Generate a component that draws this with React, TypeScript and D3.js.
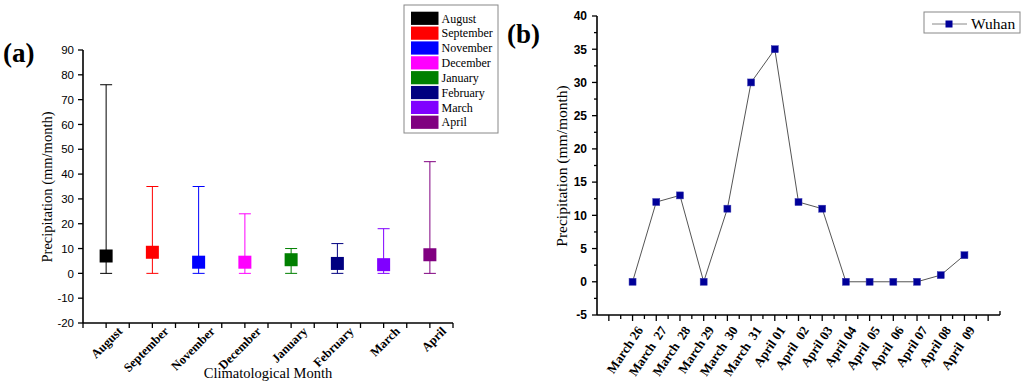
import React from "react";
import * as d3 from "d3";

// ---------- Panel (a) data ----------
const months = ["August", "September", "November", "December", "January", "February", "March", "April"];
const monthMeans = [7, 8.5, 4.5, 4.5, 5.5, 4, 3.5, 7.5];
const monthMax = [76, 35, 35, 24, 10, 12, 18, 45];
const monthMin = [0, 0, 0, 0, 0, 0, 0, 0];
const monthColors = ["#000000", "#ff0000", "#0000ff", "#ff00ff", "#008000", "#000080", "#8000ff", "#800080"];
const yTicksA = [-20, -10, 0, 10, 20, 30, 40, 50, 60, 70, 80, 90];

// ---------- Panel (b) data ----------
const days = [
  "March 26", "March  27", "March  28", "March 29", "March  30", "March  31", "April 01",
  "April  02", "April 03", "April 04", "April  05", "April  06", "April 07", "April 08", "April  09",
];
const wuhan = [0, 12, 13, 0, 11, 30, 35, 12, 11, 0, 0, 0, 0, 1, 4];
const yTicksB = [-5, 0, 5, 10, 15, 20, 25, 30, 35, 40];

const serif = "'Liberation Serif', 'Times New Roman', serif";
const sans = "'Liberation Sans', Arial, sans-serif";

export default function App() {
  // scales panel a
  const xa = d3.scaleLinear().domain([0.5, 8.5]).range([83, 453]);
  const ya = d3.scaleLinear().domain([-20, 90]).range([323, 50]);
  // scales panel b
  const xb = d3.scaleLinear().domain([-1.5, 15.5]).range([597, 1000]);
  const yb = d3.scaleLinear().domain([-5, 40]).range([315, 16]);

  const xTicksA = d3.range(0.5, 8.51, 0.5);
  const xTicksB = d3.range(-1, 15.01, 0.5);
  const yMinorB = d3.range(-5, 40.01, 2.5);

  const line = d3
    .line<number>()
    .x((_, i) => xb(i))
    .y((d) => yb(d));

  const sq = 13;
  const capW = 12;
  const mk = 7;

  return (
    <svg
      width={1024}
      height={388}
      style={{ position: "absolute", left: 0, top: 0, background: "#fff" }}
    >
      <rect x={0} y={0} width={1024} height={388} fill="#fff" />
      {/* ================= Panel (a) ================= */}
      <text x={3} y={62} fontFamily={serif} fontWeight="bold" fontSize={27}>(a)</text>

      {/* error bars and squares */}
      {months.map((m, i) => {
        const cx = xa(i + 1);
        const c = monthColors[i];
        return (
          <g key={m}>
            <line x1={cx} x2={cx} y1={ya(monthMin[i])} y2={ya(monthMax[i])} stroke={c} strokeWidth={1} />
            <line x1={cx - capW / 2} x2={cx + capW / 2} y1={ya(monthMax[i])} y2={ya(monthMax[i])} stroke={c} strokeWidth={1} />
            <line x1={cx - capW / 2} x2={cx + capW / 2} y1={ya(monthMin[i])} y2={ya(monthMin[i])} stroke={c} strokeWidth={1} />
            <rect x={cx - sq / 2} y={ya(monthMeans[i]) - sq / 2} width={sq} height={sq} fill={c} />
          </g>
        );
      })}

      {/* axes a */}
      <line x1={83} x2={83} y1={ya(90)} y2={ya(-20)} stroke="#000" strokeWidth={1.6} />
      <line x1={83} x2={453} y1={ya(-20)} y2={ya(-20)} stroke="#000" strokeWidth={1.6} />
      {yTicksA.map((t) => (
        <g key={t}>
          <line x1={78} x2={83} y1={ya(t)} y2={ya(t)} stroke="#000" strokeWidth={1.3} />
          <text x={74} y={ya(t)} dy="0.36em" textAnchor="end" fontFamily={sans} fontSize={11.5}>
            {t}
          </text>
        </g>
      ))}
      {xTicksA.map((t) => (
        <line key={t} x1={xa(t)} x2={xa(t)} y1={ya(-20)} y2={ya(-20) + 5} stroke="#000" strokeWidth={1.3} />
      ))}
      {months.map((m, i) => (
        <text
          key={m}
          transform={`translate(${xa(i + 1) + 17},${ya(-20) + 9}) rotate(-45)`}
          textAnchor="end"
          fontFamily={serif}
          fontWeight="bold"
          fontSize={12.5}
        >
          {m}
        </text>
      ))}
      <text
        transform={`translate(52,187) rotate(-90)`}
        textAnchor="middle"
        fontFamily={serif}
        fontSize={14.5}
      >
        Precipitation (mm/month)
      </text>
      <text x={268} y={378} textAnchor="middle" fontFamily={serif} fontSize={14.5}>
        Climatological Month
      </text>

      {/* legend a */}
      <rect x={404} y={5} width={94} height={128} fill="#fff" stroke="#888" strokeWidth={1} />
      {months.map((m, i) => {
        const cy = 18.3 + i * 14.85;
        return (
          <g key={m}>
            <rect x={411} y={cy - 6.6} width={27.5} height={13.2} fill={monthColors[i]} />
            <text x={441.5} y={cy} dy="0.35em" fontFamily={serif} fontSize={12}>
              {m}
            </text>
          </g>
        );
      })}

      {/* ================= Panel (b) ================= */}
      <text x={507} y={43} fontFamily={serif} fontWeight="bold" fontSize={27}>(b)</text>

      <path d={line(wuhan) || ""} fill="none" stroke="#555" strokeWidth={1} />
      {wuhan.map((v, i) => (
        <rect
          key={i}
          x={xb(i) - mk / 2}
          y={yb(v) - mk / 2}
          width={mk}
          height={mk}
          fill="#000099"
          stroke="#3a3ab0"
          strokeWidth={0.5}
        />
      ))}

      {/* axes b */}
      <line x1={597} x2={597} y1={yb(40)} y2={yb(-5)} stroke="#000" strokeWidth={1.6} />
      <line x1={597} x2={1000} y1={yb(-5)} y2={yb(-5)} stroke="#000" strokeWidth={1.6} />
      {yMinorB.map((t) => (
        <line
          key={t}
          x1={t % 5 === 0 ? 592 : 594}
          x2={597}
          y1={yb(t)}
          y2={yb(t)}
          stroke="#000"
          strokeWidth={1.3}
        />
      ))}
      {yTicksB.map((t) => (
        <text
          key={t}
          x={587}
          y={yb(t)}
          dy="0.36em"
          textAnchor="end"
          fontFamily={sans}
          fontWeight="bold"
          fontSize={12}
        >
          {t}
        </text>
      ))}
      {xTicksB.map((t) => (
        <line
          key={t}
          x1={xb(t)}
          x2={xb(t)}
          y1={yb(-5)}
          y2={yb(-5) + (Number.isInteger(t) ? 6 : 4)}
          stroke="#000"
          strokeWidth={1.3}
        />
      ))}
      <line x1={1000} x2={1000} y1={yb(-5)} y2={yb(-5) - 4} stroke="#000" strokeWidth={1.3} />
      {days.map((d, i) => (
        <text
          key={i}
          transform={`translate(${xb(i) + 11},${yb(-5) + 15}) rotate(-56)`}
          textAnchor="end"
          fontFamily={serif}
          fontWeight="bold"
          fontSize={13}
          style={{ whiteSpace: "pre" }}
        >
          {d}
        </text>
      ))}
      <text
        transform={`translate(567,166) rotate(-90)`}
        textAnchor="middle"
        fontFamily={serif}
        fontSize={15.5}
      >
        Precipitation (mm/month)
      </text>

      {/* legend b */}
      <rect x={924} y={12} width={96} height={21} fill="#fff" stroke="#888" strokeWidth={1} />
      <line x1={932} x2={967} y1={24} y2={24} stroke="#888" strokeWidth={1} />
      <rect x={949 - mk / 2} y={24 - mk / 2} width={mk} height={mk} fill="#000099" />
      <text x={971} y={24} dy="0.35em" fontFamily={serif} fontSize={15.5}>
        Wuhan
      </text>
    </svg>
  );
}
